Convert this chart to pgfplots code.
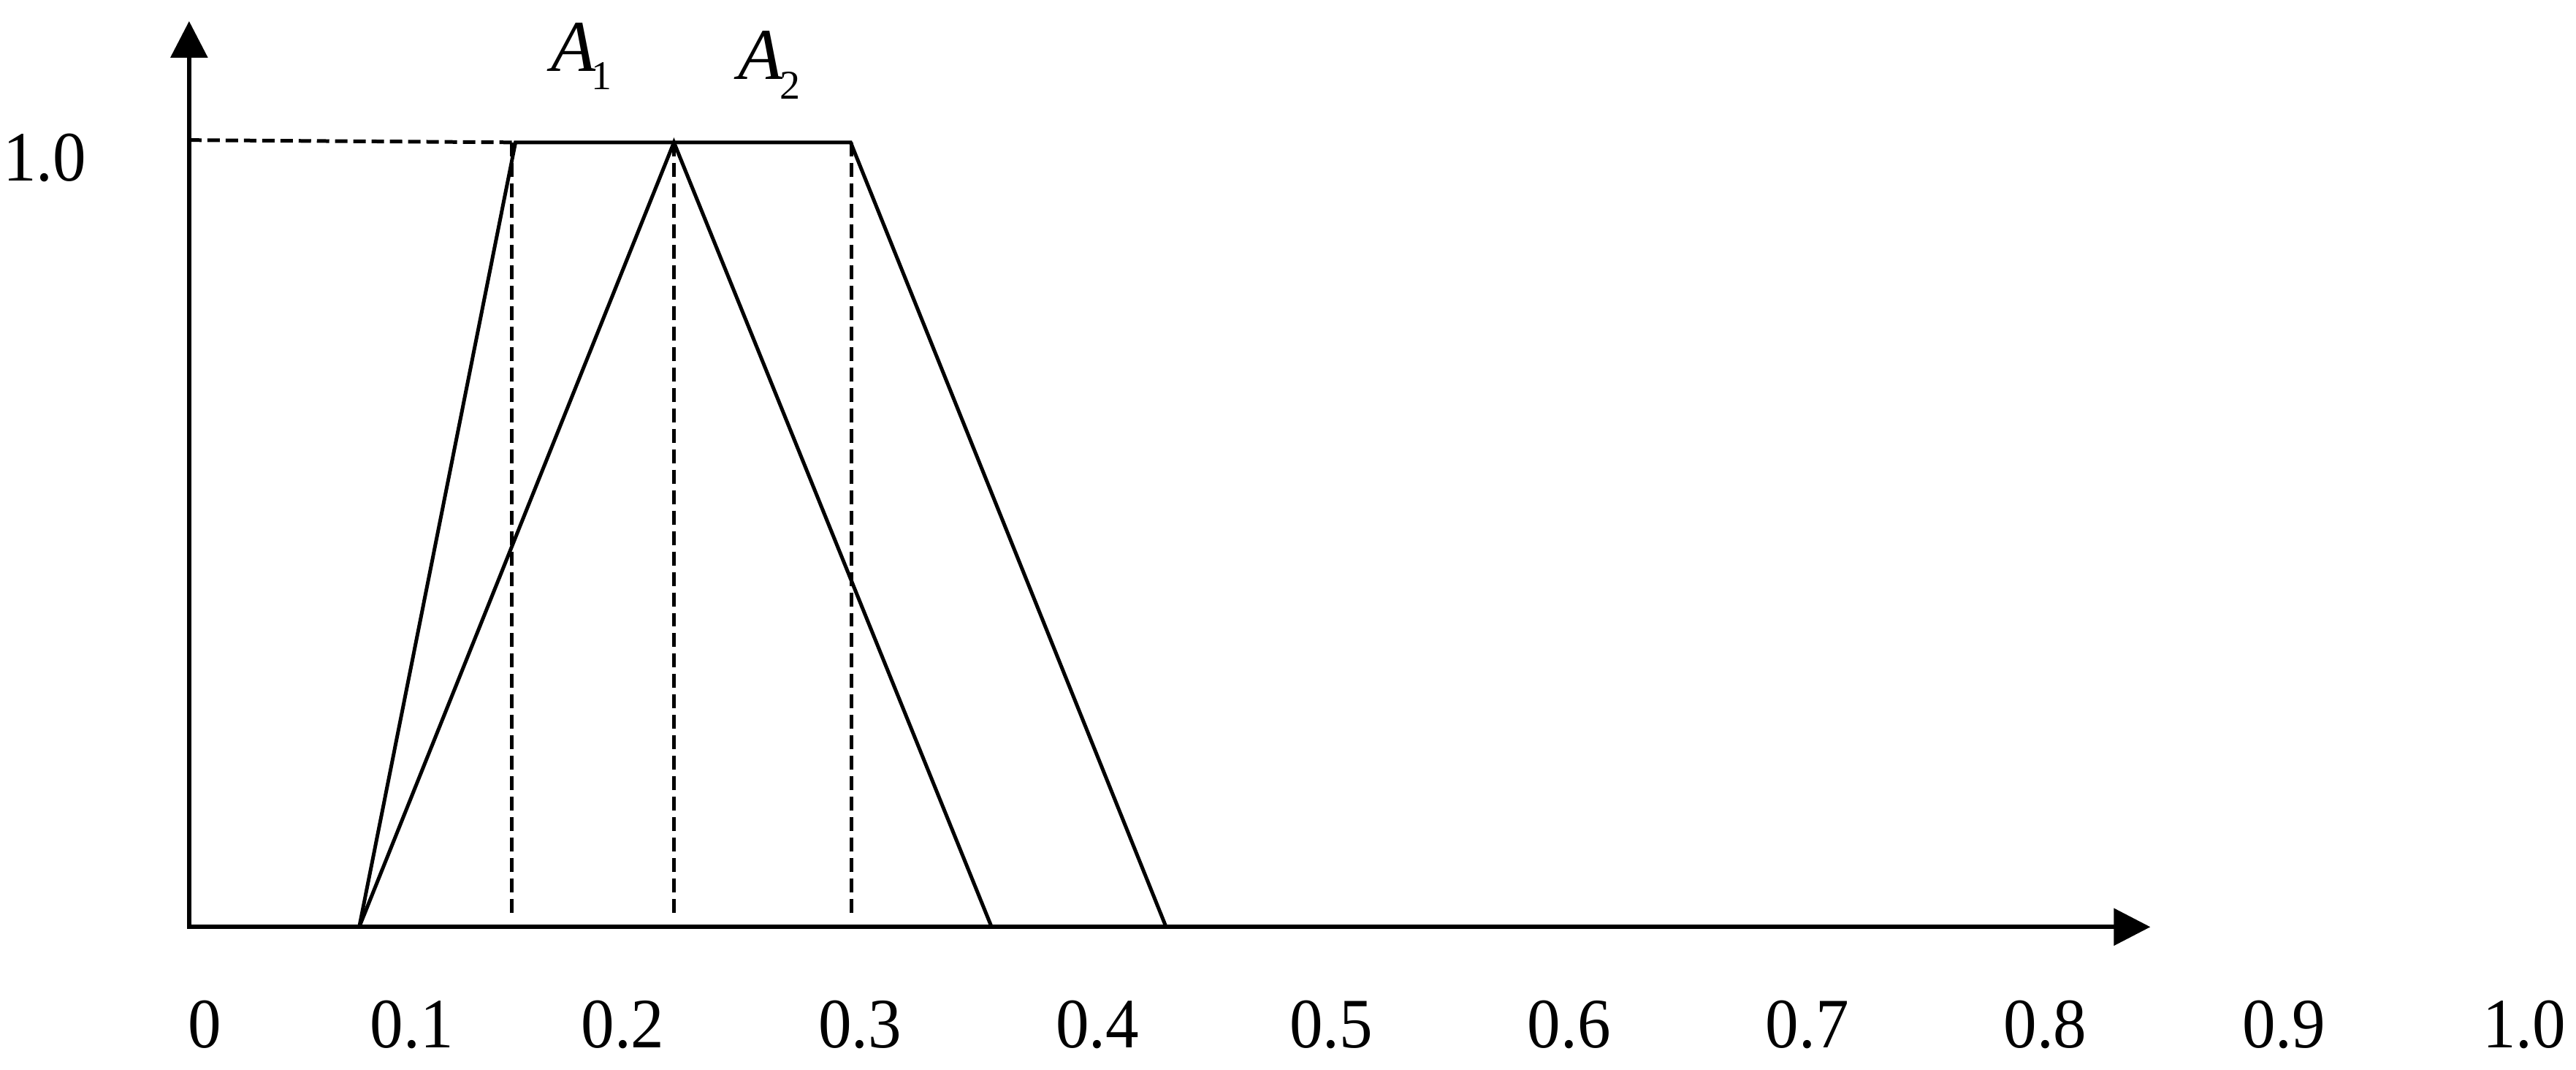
\documentclass[border=0pt]{standalone}
\usepackage{fontspec}
\setmainfont{Liberation Serif}
\newfontfamily\condfont[FakeStretch=0.94]{Liberation Serif}
\usepackage{pgfplots}
\pgfplotsset{compat=1.18}
\usetikzlibrary{arrows.meta}
\begin{document}
\begin{tikzpicture}
\begin{axis}[
  x=0.1pt, y=107.4pt,
  xmin=0, xmax=3526, ymin=-0.1806, ymax=1.1806,
  axis line style={draw=none},
  major tick length=0pt,
  no markers,
  clip=false,
  xtick={279,563,852,1177,1502,1822,2148,2474,2800,3127,3456},
  xticklabels={0,0.1,0.2,0.3,0.4,0.5,0.6,0.7,0.8,0.9,1.0},
  ytick={1}, yticklabels={1.0},
  tick label style={font=\condfont\fontsize{9.7}{11}\selectfont, inner sep=0pt},
  xticklabel style={anchor=base, yshift=2.9pt},
  yticklabel style={anchor=east, xshift=11.9pt, yshift=-2.1pt},
]
% axes with arrows
\addplot[black, line width=0.6pt, {Triangle[length=5pt,width=5pt]}-{Triangle[length=5pt,width=5pt]}]
  coordinates {(258,1.1546) (258,0) (2944,0)};
% A1 trapezoid
\addplot[black, line width=0.5pt] coordinates {(491,0) (705,1) (1164,1) (1596,0)};
% A2 triangle
\addplot[black, line width=0.5pt] coordinates {(491,0) (922,1) (1357,0)};
% dashed guides
\addplot[black, line width=0.5pt, dash pattern=on 1.7pt off 0.8pt] coordinates {(258,1.003) (705,1)};
\addplot[black, line width=0.5pt, dash pattern=on 1.9pt off 0.9pt] coordinates {(700,1) (700,0.01)};
\addplot[black, line width=0.5pt, dash pattern=on 1.9pt off 0.9pt] coordinates {(922,1) (922,0.01)};
\addplot[black, line width=0.5pt, dash pattern=on 1.9pt off 0.9pt] coordinates {(1165,1) (1165,0.01)};
\node[anchor=base west, inner sep=0pt, font=\fontsize{10}{12}\selectfont] at (axis cs:752,1.0903)
  {\textit{A}\kern-0.6pt\raisebox{-2.5pt}{\fontsize{5.6}{6}\selectfont 1}};
\node[anchor=base west, inner sep=0pt, font=\fontsize{10}{12}\selectfont] at (axis cs:1008,1.0801)
  {\textit{A}\kern-0.4pt\raisebox{-2.7pt}{\fontsize{5.6}{6}\selectfont 2}};
\end{axis}
\end{tikzpicture}
\end{document}
